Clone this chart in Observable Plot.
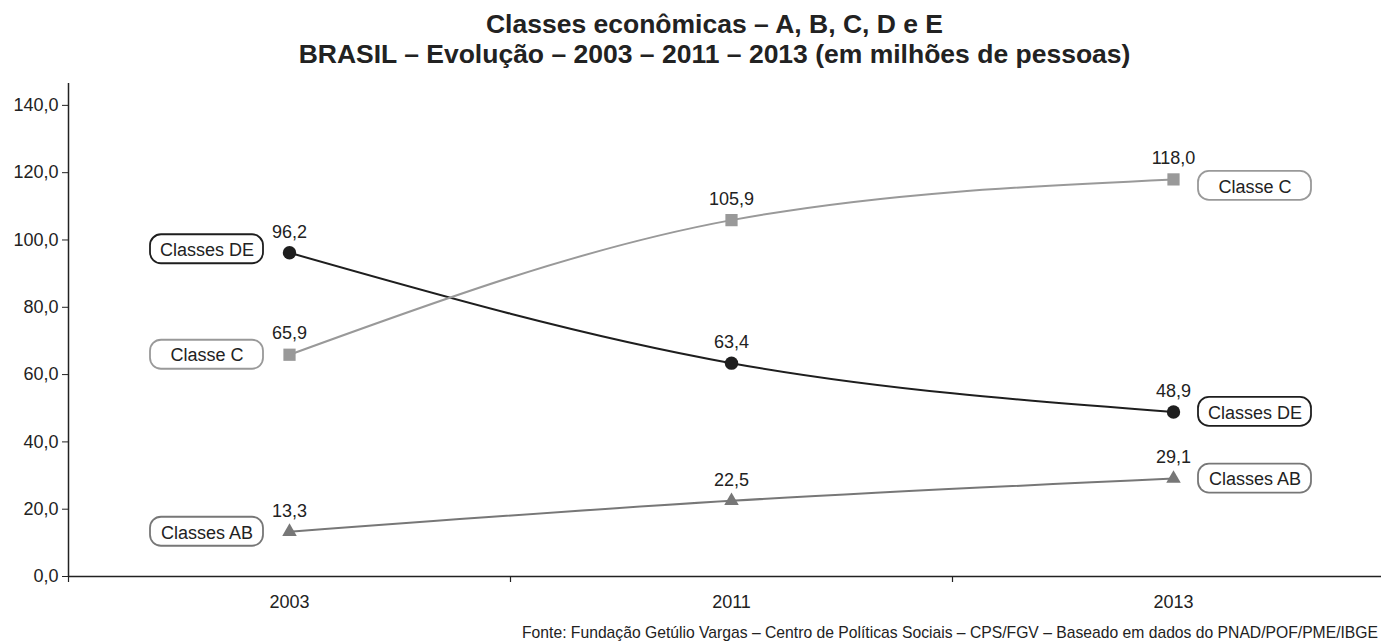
<!DOCTYPE html>
<html><head><meta charset="utf-8">
<script src="https://cdn.jsdelivr.net/npm/d3@7"></script>
<script src="https://cdn.jsdelivr.net/npm/@observablehq/plot@0.6"></script>
<style>
body{margin:0;background:#fff;font-family:"Liberation Sans",Arial,sans-serif;overflow:hidden;width:1381px;height:641px;position:relative;color:#222}
#title{height:75px;box-sizing:border-box;padding-top:9px;padding-left:48px;text-align:center;font-weight:bold;font-size:26.5px;line-height:30px;color:#222}
#foot{position:absolute;right:3px;top:624px;font-size:15.7px;line-height:18px;white-space:nowrap;color:#222}
</style></head><body>
<div id="title">Classes econômicas – A, B, C, D e E<br>BRASIL – Evolução – 2003 – 2011 – 2013 (em milhões de pessoas)</div>
<div id="chart"></div>
<div id="foot">Fonte: Fundação Getúlio Vargas – Centro de Políticas Sociais – CPS/FGV – Baseado em dados do PNAD/POF/PME/IBGE</div>
<script>
const years = ["2003", "2011", "2013"];
const seriesNames = ["Classes DE", "Classe C", "Classes AB"];
const classesDE = [96.2, 63.4, 48.9];
const classeC = [65.9, 105.9, 118.0];
const classesAB = [13.3, 22.5, 29.1];
const yTicks = [0, 20, 40, 60, 80, 100, 120, 140];

const seriesValues = {"Classes DE": classesDE, "Classe C": classeC, "Classes AB": classesAB};
const style = {
  "Classes DE": {color: "#1e1e1e", symbol: "circle", r: 6.7},
  "Classe C": {color: "#999999", symbol: "square", r: 6.9},
  "Classes AB": {color: "#777777", symbol: "triangle", r: 5.4}
};
const fmt = v => v.toFixed(1).replace(".", ",");

const rows = [];
for (const s of seriesNames) seriesValues[s].forEach((v, i) => rows.push({series: s, i, year: years[i], value: v}));

// label boxes: left of first point, right of last point
const boxes = [];
for (const s of seriesNames) {
  const vals = seriesValues[s];
  boxes.push({series: s, i: 0, value: vals[0], dx: -82.5, dy: s === "Classes DE" ? -3.5 : 0});
  boxes.push({series: s, i: vals.length - 1, value: vals[vals.length - 1], dx: 81.5, dy: s === "Classe C" ? 6.5 : 0});
}

const W = 1381, ML = 68, unit = 442;
const marks = [
  Plot.ruleY([0], {stroke: "#222", strokeWidth: 1.5}),
  Plot.ruleX([-0.5], {y1: 0, y2: 146.5, stroke: "#222", strokeWidth: 1.5}),
  Plot.ruleX([-0.5, 0.5, 1.5], {y1: 0, y2: 0, insetBottom: -6, stroke: "#222", strokeWidth: 1.2}),
  Plot.axisY({ticks: yTicks, tickSize: 6, tickPadding: 4, tickFormat: fmt, label: null, fontSize: 18, stroke: "#222", fill: "#222"}),
  Plot.axisX({ticks: [0, 1, 2], tickSize: 0, tickPadding: 19, tickFormat: i => years[i], label: null, fontSize: 18, fill: "#222"})
];
for (const s of seriesNames) {
  const d = rows.filter(r => r.series === s);
  const st = style[s];
  marks.push(Plot.line(d, {x: "i", y: "value", stroke: st.color, strokeWidth: 2, curve: "monotone-x"}));
  marks.push(Plot.dot(d, {x: "i", y: "value", fill: st.color, symbol: st.symbol, r: st.r, stroke: null}));
  marks.push(Plot.text(d, {x: "i", y: "value", text: r => fmt(r.value), dy: -21, fontSize: 18, fill: "#222"}));
}
for (const b of boxes) {
  const st = style[b.series];
  marks.push(Plot.rect([b], {x1: "i", x2: "i", y1: "value", y2: "value", insetLeft: -56.5, insetRight: -56.5, insetTop: -14.5, insetBottom: -14.5, dx: b.dx, dy: b.dy, rx: 11, fill: "white", stroke: st.color, strokeWidth: 1.8}));
  marks.push(Plot.text([b], {x: "i", y: "value", text: "series", dx: b.dx, dy: b.dy + 1, fontSize: 18, fill: "#222"}));
}

const chart = Plot.plot({
  width: W,
  height: 546,
  marginLeft: ML,
  marginRight: 0,
  marginTop: 8,
  marginBottom: 45,
  style: {fontFamily: "'Liberation Sans', Arial, sans-serif", fontSize: "18px", color: "#222", background: "white", overflow: "visible"},
  x: {type: "linear", domain: [-0.5, -0.5 + (W - ML) / unit]},
  y: {domain: [0, 146.5]},
  marks
});
document.getElementById("chart").appendChild(chart);
</script>
</body></html>
